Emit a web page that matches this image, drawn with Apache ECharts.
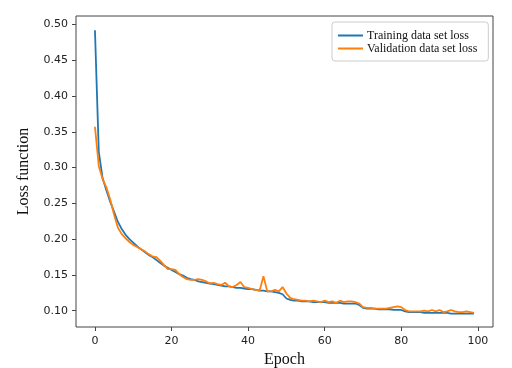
<!DOCTYPE html>
<html lang="en">
<head>
    <meta charset="UTF-8">
    <title>Loss curves</title>
    <script type="text/javascript" src="https://cdn.jsdelivr.net/npm/echarts@6.0.0/dist/echarts.min.js"></script>
    <style>
        html, body { margin: 0; padding: 0; background: #fff; }
        #chart { width: 512px; height: 368px; }
    </style>
</head>
<body>
<div id="chart"></div>
<script type="text/javascript">
    var epochs = [];
    for (var i = 0; i < 100; i++) epochs.push(i);

    var trainLoss = [
        0.492, 0.322, 0.285, 0.268, 0.252, 0.238, 0.224, 0.214, 0.206, 0.200,
        0.195, 0.190, 0.186, 0.182, 0.178, 0.175, 0.171, 0.167, 0.163, 0.160,
        0.157, 0.154, 0.151, 0.149, 0.146, 0.144, 0.143, 0.141, 0.140, 0.139,
        0.138, 0.137, 0.136, 0.135, 0.134, 0.134, 0.133, 0.132, 0.132, 0.131,
        0.130, 0.130, 0.129, 0.128, 0.128, 0.127, 0.127, 0.126, 0.125, 0.123,
        0.117, 0.115, 0.114, 0.114, 0.113, 0.113, 0.113, 0.112, 0.112, 0.112,
        0.112, 0.111, 0.111, 0.111, 0.111, 0.110, 0.110, 0.110, 0.110, 0.108,
        0.104, 0.103, 0.103, 0.103, 0.102, 0.102, 0.102, 0.102, 0.101, 0.101,
        0.101, 0.099, 0.098, 0.098, 0.098, 0.098, 0.097, 0.097, 0.097, 0.097,
        0.097, 0.097, 0.097, 0.096, 0.096, 0.096, 0.096, 0.096, 0.096, 0.096
    ];

    var validLoss = [
        0.357, 0.302, 0.284, 0.272, 0.255, 0.234, 0.216, 0.207, 0.201, 0.196,
        0.192, 0.189, 0.186, 0.183, 0.179, 0.176, 0.175, 0.170, 0.164, 0.158,
        0.158, 0.157, 0.151, 0.147, 0.144, 0.143, 0.143, 0.144, 0.143, 0.141,
        0.138, 0.139, 0.137, 0.136, 0.139, 0.134, 0.133, 0.136, 0.140, 0.133,
        0.132, 0.130, 0.129, 0.128, 0.148, 0.127, 0.127, 0.129, 0.127, 0.133,
        0.124, 0.118, 0.116, 0.115, 0.114, 0.114, 0.113, 0.114, 0.113, 0.112,
        0.114, 0.112, 0.113, 0.111, 0.114, 0.112, 0.113, 0.113, 0.112, 0.110,
        0.105, 0.104, 0.104, 0.103, 0.103, 0.103, 0.103, 0.104, 0.105, 0.106,
        0.105, 0.101, 0.099, 0.099, 0.099, 0.099, 0.100, 0.099, 0.101, 0.099,
        0.101, 0.098, 0.099, 0.101, 0.099, 0.098, 0.098, 0.099, 0.098, 0.097
    ];

    var xTicks = [0, 20, 40, 60, 80, 100];
    var yTicks = [0.10, 0.15, 0.20, 0.25, 0.30, 0.35, 0.40, 0.45, 0.50];

    function pairs(ys) {
        return epochs.map(function (e, i) { return [e, ys[i]]; });
    }

    var mychart = echarts.init(document.getElementById("chart"));
    var tickFont = { color: '#222', fontFamily: 'DejaVu Sans', fontSize: 11 };
    var option = {
        animation: false,
        grid: {
            left: 76, top: 16, right: 19, bottom: 41,
            outerBoundsMode: 'none',
            show: true, borderColor: '#444', borderWidth: 1
        },
        legend: {
            orient: 'vertical',
            left: 332, top: 22,
            padding: [7, 11, 6, 6],
            itemGap: 0,
            itemWidth: 25, itemHeight: 2,
            icon: 'rect',
            borderColor: '#ccc', borderWidth: 1, borderRadius: 3,
            textStyle: { fontFamily: 'Liberation Serif', fontSize: 12, lineHeight: 13, color: '#111', padding: [0, 0, 0, -1] },
            data: ['Training data set loss', 'Validation data set loss']
        },
        xAxis: {
            type: 'value',
            min: -4.95, max: 103.95,
            splitLine: { show: false },
            axisLine: { show: false, onZero: false },
            axisTick: { show: true, inside: false, length: 4, customValues: xTicks, lineStyle: { color: '#444' } },
            axisLabel: Object.assign({ customValues: xTicks, margin: 9 }, tickFont),
            name: 'Epoch',
            nameLocation: 'middle',
            nameGap: 23,
            nameTextStyle: { fontFamily: 'Liberation Serif', fontSize: 16, color: '#111' }
        },
        yAxis: {
            type: 'value',
            min: 0.0772, max: 0.5118,
            splitLine: { show: false },
            axisLine: { show: false, onZero: false },
            axisTick: { show: true, inside: false, length: 4, customValues: yTicks, lineStyle: { color: '#444' } },
            axisLabel: Object.assign({
                customValues: yTicks, margin: 8,
                formatter: function (v) { return v.toFixed(2); }
            }, tickFont),
            name: 'Loss function',
            nameLocation: 'middle',
            nameGap: 44,
            nameTextStyle: { fontFamily: 'Liberation Serif', fontSize: 16, color: '#111' }
        },
        series: [{
            name: 'Training data set loss',
            type: 'line',
            data: pairs(trainLoss),
            showSymbol: false,
            lineStyle: { color: '#1f77b4', width: 1.8 },
            itemStyle: { color: '#1f77b4' }
        }, {
            name: 'Validation data set loss',
            type: 'line',
            data: pairs(validLoss),
            showSymbol: false,
            lineStyle: { color: '#ff7f0e', width: 1.8 },
            itemStyle: { color: '#ff7f0e' }
        }]
    };
    mychart.setOption(option);
</script>
</body>
</html>
